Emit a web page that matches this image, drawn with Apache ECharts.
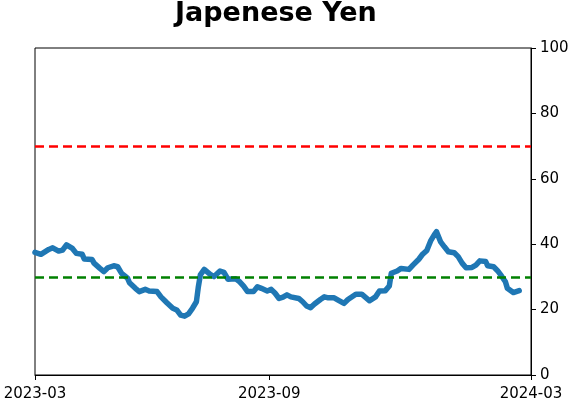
<!DOCTYPE html>
<html><head><meta charset="utf-8">
<script src="https://cdn.jsdelivr.net/npm/echarts@6/dist/echarts.min.js"></script>
<style>html,body{margin:0;padding:0;background:#fff}#c{width:572px;height:402px}</style>
</head><body><div id="c"></div>
<script>
// x = trading-day index since 2023-03
const dayIndex = [0,3,7,9,12,14,16,19,21,24,25,29,30,33,35,37,40,42,44,47,48,51,53,56,58,62,64,67,70,72,74,76,78,80,82,83,84,86,89,91,94,96,98,102,104,106,108,111,113,115,118,120,122,124,126,128,130,134,136,138,140,142,145,147,149,152,154,157,159,163,166,170,173,175,178,180,181,184,186,190,192,195,197,199,201,203,204,206,208,210,213,215,217,219,222,224,226,229,230,233,235,237,239,240,243,244,246];
const values = [37.5,36.9,38.4,38.9,37.9,38.2,39.8,38.7,37.2,36.9,35.5,35.3,34.2,32.6,31.6,32.8,33.4,33.1,31.1,29.6,28.2,26.5,25.5,26.2,25.7,25.5,23.9,22.1,20.4,19.9,18.3,18.0,18.7,20.4,22.4,27.0,30.6,32.3,30.8,30.1,31.8,31.4,29.3,29.4,28.5,27.2,25.5,25.5,27.0,26.5,25.7,26.2,25.0,23.4,23.8,24.5,23.9,23.4,22.4,21.1,20.6,21.7,23.1,23.9,23.6,23.6,22.9,21.9,23.1,24.7,24.7,22.7,23.9,25.7,25.8,27.2,31.1,31.8,32.6,32.3,33.6,35.4,37.0,38.0,41.0,43.0,43.8,40.8,39.2,37.7,37.4,36.2,34.2,32.8,32.9,33.6,34.9,34.7,33.4,33.1,31.9,30.3,28.5,26.5,25.2,24.8,25.8];
const tickPositions = [0, 119, 252];
const tickLabels = ['2023-03', '2023-09', '2024-03'];
const upperLevel = 70;
const lowerLevel = 30;

const chart = echarts.init(document.getElementById('c'), null, {renderer: 'canvas'});
const font = 'DejaVu Sans';
chart.setOption({
  animation: false,
  backgroundColor: '#fff',
  title: {
    text: 'Japenese Yen', left: 170, top: -5,
    textStyle: {fontFamily: font, fontWeight: 'bold', fontSize: 27, color: '#000'}
  },
  grid: {left: 35, right: 41, top: 48, bottom: 27, show: true, borderColor: '#000', borderWidth: 1, backgroundColor: 'transparent'},
  xAxis: {
    type: 'value', min: 0, max: 252,
    axisLine: {show: true, onZero: false, lineStyle: {color: '#000', width: 1}},
    axisTick: {show: true, inside: false, customValues: tickPositions, length: 5, lineStyle: {color: '#000'}},
    axisLabel: {
      customValues: tickPositions, color: '#000', fontFamily: font, fontSize: 15, margin: 12,
      formatter: v => tickLabels[tickPositions.indexOf(v)] || ''
    },
    splitLine: {show: false}
  },
  yAxis: {
    type: 'value', position: 'right', min: 0, max: 100, interval: 20,
    axisLine: {show: true, onZero: false, lineStyle: {color: '#000', width: 1}},
    axisTick: {show: true, inside: false, length: 5, lineStyle: {color: '#000'}},
    axisLabel: {color: '#000', fontFamily: font, fontSize: 15, margin: 9},
    splitLine: {show: false}
  },
  series: [{
    type: 'line',
    data: dayIndex.map((d, i) => [d, values[i]]),
    showSymbol: false,
    lineStyle: {color: '#1f77b4', width: 5.5, cap: 'round', join: 'round'},
    markLine: {
      silent: true, symbol: 'none', label: {show: false},
      data: [
        {yAxis: upperLevel, lineStyle: {color: '#ff0000', type: [9, 5], width: 2.5}},
        {yAxis: lowerLevel, lineStyle: {color: '#008000', type: [9, 5], width: 2.5}}
      ]
    },
    z: 3
  }]
});
</script></body></html>
